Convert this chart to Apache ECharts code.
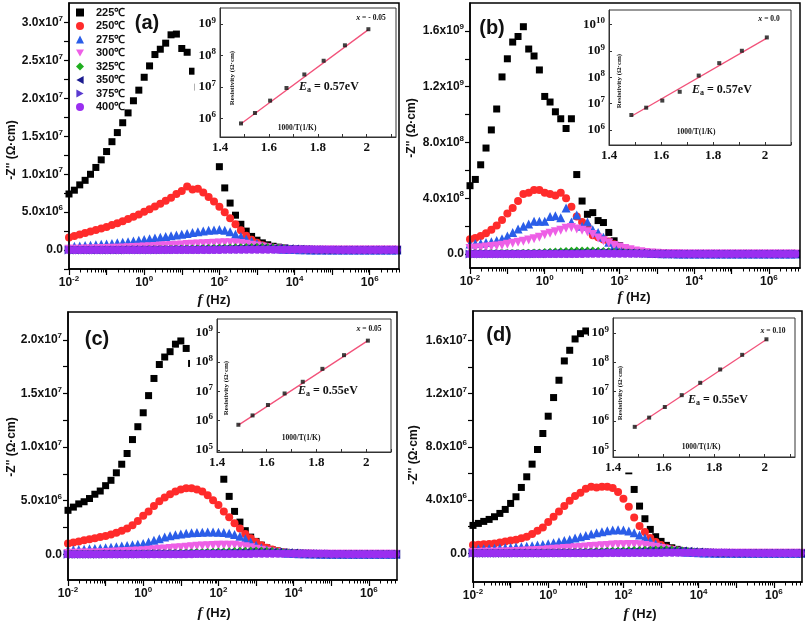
<!DOCTYPE html>
<html><head><meta charset="utf-8">
<script src="https://cdn.jsdelivr.net/npm/echarts@6/dist/echarts.min.js"></script>
<style>html,body{margin:0;padding:0;background:#fff}#c{width:805px;height:624px}</style>
</head><body><div id="c"></div>
<script>
const TEMPS = ['225℃','250℃','275℃','300℃','325℃','350℃','375℃','400℃'];
const FREQ = [0.01,0.01389,0.01931,0.02683,0.03728,0.05179,0.07197,
 0.1,0.1389,0.1931,0.2683,0.3728,0.5179,0.7197,
 1,1.389,1.931,2.683,3.728,5.179,7.197,
 10,13.89,19.31,26.83,37.28,51.79,71.97,
 100,138.9,193.1,268.3,372.8,517.9,719.7,
 1000,1389,1931,2683,3728,5179,7197,
 1e4,13890,19310,26830,37280,51790,71970,
 1e5,138900,193100,268300,372800,517900,719700,
 1e6,1389000,1931000,2683000,3728000,5179000];

// panel (a): -Z'' in units of 1e6 ohm.cm
const UNIT_A = 1e6;
const A225 = [7.4,7.9,8.6,9.2,10.0,10.9,11.9,13.0,14.3,15.5, 16.8,18.1,19.7,21.1,22.8,24.3,25.8,26.5,27.3,28.4, 28.5,26.6,26.1,23.6,21.5,19.0,16.5,13.8,11.0,8.2, 6.2,4.6,3.4,2.5,1.8,1.3,0.95,0.7,0.5,0.38, 0.28,0.2,0.15,0.11,0.08,0.06,0.05,0.04,0.03,0.03, 0.02,0.02,0.02,0.01,0.01,0.01,0.01,0.01,0.01,0.01, 0.01,0.01];
const A250 = [1.65,1.85,2.05,2.25,2.45,2.65,2.85,3.05,3.3,3.55, 3.8,4.1,4.4,4.7,5.05,5.4,5.75,6.1,6.5,6.9, 7.4,7.8,8.4,8.0,8.1,7.6,7.0,6.4,5.7,5.0, 4.2,3.4,2.6,1.9,1.35,0.95,0.65,0.45,0.3,0.2, 0.14,0.1,0.07,0.05,0.04,0.03,0.02,0.02,0.01,0.01, 0.01,0.01,0.01,0.01,0.01,0.01,0.01,0.01,0.01,0.01, 0.01,0.01];
const A275 = [0.45,0.5,0.55,0.6,0.65,0.7,0.75,0.8,0.87,0.95, 1.03,1.1,1.2,1.3,1.4,1.5,1.6,1.7,1.8,1.9, 2.0,2.1,2.2,2.3,2.4,2.5,2.6,2.65,2.7,2.6, 2.4,2.1,1.8,1.45,1.15,0.85,0.58,0.4,0.27,0.18, 0.12,0.08,0.06,0.04,0.03,0.02,0.02,0.01,0.01,0.01, 0.01,0.01,0.01,0.01,0.01,0.01,0.01,0.01,0.01,0.01, 0.01,0.01];
const A300 = [0.1,0.11,0.12,0.13,0.15,0.17,0.19,0.21,0.23,0.25, 0.27,0.3,0.33,0.36,0.4,0.44,0.48,0.52,0.56,0.6, 0.64,0.68,0.72,0.76,0.8,0.84,0.88,0.91,0.94,0.96, 0.96,0.94,0.88,0.78,0.65,0.52,0.4,0.3,0.22,0.15, 0.1,0.07,0.05,0.03,0.02,0.02,0.01,0.01,0.01,0.01, 0.01,0.01,0.01,0.01,0.01,0.01,0.01,0.01,0.01,0.01, 0,0];
const A325 = [0.03,0.03,0.03,0.03,0.04,0.04,0.04,0.05,0.05,0.05, 0.06,0.06,0.07,0.07,0.08,0.09,0.1,0.11,0.12,0.13, 0.15,0.16,0.18,0.2,0.22,0.24,0.26,0.28,0.3,0.32, 0.34,0.36,0.38,0.4,0.41,0.42,0.42,0.4,0.36,0.3, 0.23,0.17,0.12,0.08,0.05,0.03,0.02,0.01,0.01,0.01, 0.01,0.01,0.01,0,0,0,0,0,0,0, 0,0];
const A350 = [0.01,0.01,0.01,0.01,0.01,0.02,0.02,0.02,0.02,0.02, 0.03,0.03,0.03,0.03,0.04,0.04,0.04,0.05,0.05,0.06, 0.06,0.07,0.07,0.08,0.09,0.1,0.11,0.12,0.13,0.14, 0.15,0.16,0.17,0.18,0.19,0.2,0.21,0.22,0.22,0.22, 0.2,0.17,0.13,0.09,0.06,0.04,0.03,0.02,0.01,0.01, 0.01,0.01,0,0,0,0,0,0,0,0, 0,0];
const A375 = [0,0,0,0,0,0,0.01,0.01,0.01,0.01, 0.01,0.01,0.01,0.02,0.02,0.02,0.02,0.02,0.03,0.03, 0.03,0.03,0.04,0.04,0.04,0.05,0.05,0.05,0.06,0.06, 0.07,0.07,0.08,0.08,0.09,0.09,0.1,0.1,0.11,0.11, 0.12,0.12,0.12,0.11,0.1,0.08,0.06,0.04,0.03,0.02, 0.01,0.01,0.01,0.01,0.01,0,0,0,0,0, 0,0];
const A400 = [0,0,0,0,0,0,0,0,0,0, 0,0,0,0,0,0.01,0.01,0.01,0.01,0.01, 0.01,0.01,0.01,0.02,0.02,0.02,0.02,0.02,0.02,0.03, 0.03,0.03,0.03,0.03,0.04,0.04,0.04,0.04,0.05,0.05, 0.05,0.05,0.06,0.06,0.06,0.06,0.05,0.05,0.04,0.03, 0.02,0.02,0.01,0.01,0.01,0,0,0,0,0, 0,0];

// panel (b): -Z'' in units of 1e8 ohm.cm
const UNIT_B = 1e8;
const B225 = [4.9,5.35,6.4,7.6,8.9,10.4,12.7,14.0,15.2,15.6, 16.3,14.7,14.2,13.2,11.3,10.9,10.2,9.7,9.0,9.7, 5.7,3.8,2.85,2.97,2.4,2.26,1.55,0.95,0.6,0.42, 0.3,0.2,0.14,0.1,0.07,0.05,0.04,0.03,0.02,0.02, 0.01,0.01,0.01,0.01,0.01,0.01,0.01,0.01,0.01,0.01, 0.01,0.01,0.01,0.01,0.01,0,0,0,0,0, 0,0];
const B250 = [1.07,1.15,1.3,1.5,1.75,2.05,2.45,2.9,3.3,3.8, 4.3,4.4,4.6,4.6,4.4,4.3,4.2,4.4,4.0,3.4, 2.7,2.3,2.0,1.35,1.2,1.05,0.9,0.7,0.5,0.35, 0.25,0.17,0.12,0.08,0.06,0.04,0.03,0.02,0.02,0.01, 0.01,0.01,0.01,0.01,0.01,0.01,0.01,0.01,0.01,0.01, 0.01,0.01,0.01,0.01,0.01,0,0,0,0,0, 0,0];
const B275 = [0.72,0.75,0.78,0.82,0.88,0.97,1.1,1.3,1.55,1.8, 2.0,2.15,2.35,2.35,2.35,2.7,2.75,2.6,3.3,2.3, 2.8,2.0,2.3,1.75,1.55,1.2,0.85,0.6,0.45,0.33, 0.25,0.18,0.13,0.09,0.06,0.04,0.03,0.02,0.02,0.01, 0.01,0.01,0.01,0.01,0.01,0.01,0.01,0.01,0.01,0.01, 0.01,0.01,0.01,0.01,0.01,0,0,0,0,0, 0,0];
const B300 = [0.4,0.43,0.46,0.5,0.54,0.58,0.63,0.7,0.78,0.85, 0.92,1.0,1.1,1.2,1.38,1.5,1.6,1.7,1.85,1.9, 1.8,1.7,1.6,1.4,1.15,0.95,0.8,0.62,0.5,0.4, 0.3,0.22,0.16,0.12,0.08,0.06,0.04,0.03,0.02,0.02, 0.01,0.01,0.01,0.01,0.01,0.01,0.01,0.01,0.01,0.01, 0.01,0.01,0.01,0.01,0.01,0,0,0,0,0, 0,0];
const B325 = [0.05,0.05,0.05,0.06,0.06,0.06,0.07,0.07,0.08,0.08, 0.09,0.1,0.11,0.12,0.14,0.16,0.18,0.2,0.22,0.24, 0.25,0.26,0.26,0.25,0.24,0.22,0.2,0.17,0.14,0.11, 0.09,0.07,0.05,0.04,0.03,0.02,0.02,0.01,0.01,0.01, 0.01,0.01,0.01,0.01,0.01,0.01,0.01,0.01,0.01,0.01, 0,0,0,0,0,0,0,0,0,0, 0,0];
const B350 = [0.02,0.02,0.02,0.02,0.02,0.02,0.02,0.02,0.02,0.02, 0.02,0.03,0.03,0.03,0.04,0.04,0.05,0.05,0.06,0.06, 0.07,0.08,0.08,0.09,0.1,0.1,0.1,0.1,0.09,0.08, 0.07,0.06,0.05,0.04,0.03,0.02,0.02,0.01,0.01,0.01, 0.01,0.01,0.01,0.01,0.01,0.01,0.01,0.01,0.01,0.01, 0,0,0,0,0,0,0,0,0,0, 0,0];
const B375 = [0.01,0.01,0.01,0.01,0.01,0.01,0.01,0.01,0.01,0.01, 0.01,0.01,0.01,0.02,0.02,0.02,0.02,0.03,0.03,0.03, 0.03,0.04,0.04,0.04,0.05,0.05,0.05,0.05,0.05,0.05, 0.05,0.04,0.04,0.03,0.03,0.02,0.02,0.01,0.01,0.01, 0.01,0.01,0.01,0.01,0.01,0.01,0.01,0.01,0.01,0.01, 0,0,0,0,0,0,0,0,0,0, 0,0];
const B400 = [0,0,0,0,0,0,0,0,0,0, 0,0,0,0.01,0.01,0.01,0.01,0.01,0.01,0.01, 0.01,0.01,0.02,0.02,0.02,0.02,0.02,0.02,0.02,0.02, 0.02,0.02,0.02,0.02,0.01,0.01,0.01,0.01,0.01,0.01, 0.01,0.01,0.01,0.01,0.01,0,0,0,0,0, 0,0,0,0,0,0,0,0,0,0, 0,0];

// panel (c): -Z'' in units of 1e6 ohm.cm
const UNIT_C = 1e6;
const C225 = [4.1,4.4,4.7,4.9,5.2,5.6,5.9,6.4,6.9,7.6, 8.4,9.4,10.7,11.9,13.2,14.8,16.4,17.7,18.4,18.9, 19.6,19.9,19.2,17.8,16.0,14.2,12.4,10.6,8.8,7.0, 5.4,4.0,3.0,2.2,1.6,1.2,0.85,0.6,0.42,0.3, 0.2,0.14,0.1,0.07,0.05,0.04,0.03,0.02,0.02,0.01, 0.01,0.01,0.01,0.01,0.01,0.01,0.01,0.01,0.01,0.01, 0.01,0.01];
const C250 = [1.0,1.1,1.2,1.3,1.4,1.5,1.6,1.7,1.85,2.0, 2.2,2.4,2.7,3.1,3.6,4.0,4.5,4.95,5.3,5.6, 5.85,6.05,6.15,6.15,6.05,5.85,5.5,5.05,4.6,4.0, 3.45,2.9,2.4,1.9,1.5,1.15,0.85,0.62,0.44,0.3, 0.2,0.14,0.1,0.07,0.05,0.04,0.03,0.02,0.01,0.01, 0.01,0.01,0.01,0.01,0.01,0.01,0.01,0.01,0.01,0.01, 0.01,0.01];
const C275 = [0.4,0.42,0.45,0.48,0.51,0.54,0.57,0.6,0.65,0.7, 0.76,0.82,0.88,0.94,1.0,1.15,1.3,1.45,1.6,1.72, 1.82,1.9,1.95,2.0,2.03,2.05,2.07,2.08,2.06,2.02, 1.95,1.85,1.68,1.45,1.15,0.85,0.6,0.42,0.3,0.2, 0.14,0.1,0.07,0.05,0.04,0.03,0.02,0.01,0.01,0.01, 0.01,0.01,0.01,0.01,0.01,0.01,0.01,0.01,0.01,0.01, 0.01,0.01];
const C300 = [0.08,0.09,0.1,0.11,0.12,0.13,0.15,0.17,0.19,0.21, 0.23,0.25,0.28,0.31,0.34,0.38,0.42,0.46,0.5,0.54, 0.58,0.62,0.66,0.7,0.74,0.77,0.8,0.82,0.84,0.85, 0.85,0.83,0.78,0.7,0.6,0.48,0.37,0.28,0.2,0.14, 0.1,0.07,0.05,0.03,0.02,0.02,0.01,0.01,0.01,0.01, 0.01,0.01,0.01,0.01,0.01,0,0,0,0,0, 0,0];
const C325 = [0.03,0.03,0.03,0.03,0.03,0.04,0.04,0.04,0.04,0.05, 0.05,0.05,0.06,0.06,0.07,0.08,0.09,0.1,0.1,0.11, 0.13,0.14,0.15,0.17,0.19,0.2,0.22,0.24,0.26,0.27, 0.29,0.31,0.32,0.34,0.35,0.36,0.36,0.34,0.31,0.26, 0.2,0.15,0.1,0.07,0.04,0.03,0.02,0.01,0.01,0.01, 0.01,0.01,0,0,0,0,0,0,0,0, 0,0];
const C350 = [0.01,0.01,0.01,0.01,0.01,0.01,0.02,0.02,0.02,0.02, 0.02,0.03,0.03,0.03,0.03,0.04,0.04,0.04,0.05,0.05, 0.06,0.06,0.07,0.07,0.08,0.09,0.1,0.11,0.12,0.13, 0.14,0.15,0.16,0.17,0.18,0.19,0.2,0.2,0.2,0.19, 0.17,0.14,0.11,0.08,0.05,0.04,0.03,0.02,0.01,0.01, 0.01,0.01,0,0,0,0,0,0,0,0, 0,0];
const C375 = [0,0,0,0,0,0,0,0.01,0.01,0.01, 0.01,0.01,0.01,0.01,0.02,0.02,0.02,0.02,0.02,0.03, 0.03,0.03,0.03,0.04,0.04,0.04,0.05,0.05,0.05,0.06, 0.06,0.07,0.07,0.08,0.08,0.09,0.09,0.1,0.1,0.1, 0.11,0.11,0.11,0.1,0.09,0.07,0.05,0.04,0.03,0.02, 0.01,0.01,0.01,0.01,0,0,0,0,0,0, 0,0];
const C400 = [0,0,0,0,0,0,0,0,0,0, 0,0,0,0,0,0,0.01,0.01,0.01,0.01, 0.01,0.01,0.01,0.01,0.02,0.02,0.02,0.02,0.02,0.02, 0.03,0.03,0.03,0.03,0.03,0.04,0.04,0.04,0.04,0.05, 0.05,0.05,0.05,0.05,0.05,0.05,0.05,0.04,0.04,0.03, 0.02,0.02,0.01,0.01,0.01,0,0,0,0,0, 0,0];

// panel (d): -Z'' in units of 1e6 ohm.cm
const UNIT_D = 1e6;
const D225 = [2.1,2.25,2.4,2.55,2.75,3.0,3.3,3.75,4.25,4.95, 5.75,6.7,7.8,9.0,10.3,11.7,13.0,14.45,15.25,16.1, 16.5,16.7,16.6,16.0,15.0,13.5,11.5,9.5,7.8,6.2, 4.8,3.55,2.6,1.8,1.25,0.9,0.6,0.42,0.3,0.2, 0.14,0.1,0.07,0.05,0.04,0.03,0.02,0.02,0.01,0.01, 0.01,0.01,0.01,0.01,0.01,0.01,0.01,0.01,0.01,0.01, 0.01,0.01];
const D250 = [0.63,0.65,0.68,0.71,0.75,0.82,0.89,0.96,1.03,1.13, 1.25,1.45,1.7,1.95,2.35,2.75,3.15,3.55,3.95,4.3, 4.55,4.85,5.0,4.95,5.0,5.0,4.9,4.6,4.1,3.5, 2.7,2.05,1.6,1.15,0.85,0.62,0.42,0.3,0.2,0.14, 0.1,0.07,0.05,0.04,0.03,0.02,0.02,0.01,0.01,0.01, 0.01,0.01,0.01,0.01,0.01,0.01,0.01,0.01,0.01,0.01, 0.01,0.01];
const D275 = [0.33,0.34,0.35,0.36,0.38,0.4,0.42,0.44,0.47,0.5, 0.54,0.58,0.62,0.67,0.73,0.8,0.88,0.96,1.05,1.15, 1.25,1.35,1.45,1.55,1.62,1.7,1.75,1.78,1.75,1.68, 1.55,1.38,1.15,0.92,0.7,0.5,0.36,0.26,0.18,0.12, 0.08,0.06,0.04,0.03,0.02,0.01,0.01,0.01,0.01,0.01, 0.01,0.01,0.01,0.01,0.01,0.01,0.01,0.01,0.01,0.01, 0.01,0.01];
const D300 = [0.06,0.07,0.08,0.08,0.09,0.1,0.11,0.13,0.14,0.16, 0.18,0.2,0.22,0.24,0.27,0.3,0.33,0.36,0.39,0.42, 0.45,0.48,0.51,0.54,0.57,0.6,0.62,0.64,0.65,0.66, 0.66,0.64,0.6,0.54,0.46,0.37,0.29,0.22,0.16,0.11, 0.08,0.05,0.04,0.03,0.02,0.01,0.01,0.01,0.01,0.01, 0.01,0.01,0.01,0.01,0.01,0,0,0,0,0, 0,0];
const D325 = [0.02,0.02,0.02,0.03,0.03,0.03,0.03,0.03,0.04,0.04, 0.04,0.05,0.05,0.06,0.06,0.07,0.08,0.08,0.09,0.1, 0.11,0.12,0.13,0.15,0.16,0.17,0.19,0.2,0.22,0.23, 0.25,0.26,0.27,0.28,0.29,0.3,0.3,0.29,0.26,0.22, 0.17,0.12,0.09,0.06,0.04,0.02,0.01,0.01,0.01,0.01, 0.01,0,0,0,0,0,0,0,0,0, 0,0];
const D350 = [0.01,0.01,0.01,0.01,0.01,0.01,0.01,0.02,0.02,0.02, 0.02,0.02,0.03,0.03,0.03,0.03,0.04,0.04,0.04,0.05, 0.05,0.06,0.06,0.07,0.08,0.08,0.09,0.1,0.11,0.12, 0.13,0.14,0.15,0.16,0.16,0.17,0.18,0.18,0.18,0.17, 0.15,0.13,0.1,0.07,0.05,0.03,0.02,0.02,0.01,0.01, 0.01,0,0,0,0,0,0,0,0,0, 0,0];
const D375 = [0,0,0,0,0,0,0,0,0.01,0.01, 0.01,0.01,0.01,0.01,0.01,0.02,0.02,0.02,0.02,0.02, 0.02,0.03,0.03,0.03,0.03,0.04,0.04,0.04,0.05,0.05, 0.05,0.06,0.06,0.07,0.07,0.08,0.08,0.09,0.09,0.09, 0.1,0.1,0.1,0.09,0.08,0.06,0.05,0.04,0.03,0.02, 0.01,0.01,0.01,0,0,0,0,0,0,0, 0,0];
const D400 = [0,0,0,0,0,0,0,0,0,0, 0,0,0,0,0,0,0,0.01,0.01,0.01, 0.01,0.01,0.01,0.01,0.01,0.02,0.02,0.02,0.02,0.02, 0.02,0.03,0.03,0.03,0.03,0.03,0.04,0.04,0.04,0.04, 0.04,0.05,0.05,0.05,0.05,0.05,0.04,0.04,0.03,0.03, 0.02,0.02,0.01,0.01,0.01,0,0,0,0,0, 0,0];

// insets: resistivity vs 1000/T (400℃ ... 225℃)
const INV_T = [1.486,1.543,1.605,1.672,1.745,1.824,1.911,2.007];
const RHO_A = [7.0e5,1.5e6,3.7e6,9.3e6,2.5e7,6.8e7,2.1e8,6.8e8];
const RHO_B = [3.7e6,7.0e6,1.3e7,2.8e7,1.15e8,3.4e8,1.0e9,3.2e9];
const RHO_C = [7.2e5,1.5e6,3.4e6,8.4e6,2.1e7,5.8e7,1.7e8,5.3e8];
const RHO_D = [6.3e5,1.3e6,3.0e6,7.6e6,2.0e7,5.7e7,1.8e8,6.1e8];
const FIT_A = [6.8e5,6.6e8];
const FIT_B = [3.3e6,3.0e9];
const FIT_C = [7.0e5,5.3e8];
const FIT_D = [6.2e5,6.0e8];
const EA_TEXT = ['0.57eV','0.57eV','0.55eV','0.55eV'];
const X_TEXT = [' = - 0.05',' = 0.0',' = 0.05',' = 0.10'];
const LETTERS = ['(a)','(b)','(c)','(d)'];

// tick values
const X_DECADES = [0.01,0.1,1,10,100,1e3,1e4,1e5,1e6];
const X_LABELS = [0.01,1,100,1e4,1e6];
const Y_TICKS_A = [-2.5e6,0,2.5e6,5e6,7.5e6,1e7,1.25e7,1.5e7,1.75e7,2e7,2.25e7,2.5e7,2.75e7,3e7];
const Y_LABELS_A = [0,5e6,1e7,1.5e7,2e7,2.5e7,3e7];
const Y_TICKS_B = [0,2e8,4e8,6e8,8e8,1e9,1.2e9,1.4e9,1.6e9];
const Y_LABELS_B = [0,4e8,8e8,1.2e9,1.6e9];
const Y_TICKS_C = [0,2.5e6,5e6,7.5e6,1e7,1.25e7,1.5e7,1.75e7,2e7];
const Y_LABELS_C = [0,5e6,1e7,1.5e7,2e7];
const Y_TICKS_D = [0,2e6,4e6,6e6,8e6,1e7,1.2e7,1.4e7,1.6e7];
const Y_LABELS_D = [0,4e6,8e6,1.2e7,1.6e7];
const INSET_X_TICKS = [1.4,1.5,1.6,1.7,1.8,1.9,2.0,2.1];
const INSET_X_LABELS = [1.4,1.6,1.8,2.0];

const SANS = '"Liberation Sans", Arial, sans-serif';
const SERIF = '"Liberation Serif", "Times New Roman", serif';

const SYMS = [
  {symbol:'rect', size:7, color:'#000000'},
  {symbol:'circle', size:8, color:'#ff2b2b'},
  {symbol:'triangle', size:9, color:'#2a5de8'},
  {symbol:'path://M0,0L10,0L5,9Z', size:9, color:'#ee5fe6'},
  {symbol:'diamond', size:8, color:'#1fae1f'},
  {symbol:'path://M9,0L9,10L0,5Z', size:9, color:'#1b1b8f'},
  {symbol:'path://M0,0L0,10L9,5Z', size:9, color:'#5a3bd0'},
  {symbol:'circle', size:8, color:'#9a2ff0'}
];

const PANELS = [
  {data:[A225,A250,A275,A300,A325,A350,A375,A400], unit:UNIT_A, xMax:6e6, yMin:-2.5e6, yMax:3.26e7, yTicks:Y_TICKS_A, yLabels:Y_LABELS_A,
   main:{left:69,top:3,width:330,height:266}, inset:{left:220,top:8,width:176,height:129}, insetX:[1.4,2.12], insetY:[2.6e5,3.2e9], insetYLabels:[1e6,1e7,1e8,1e9],
   rho:RHO_A, fit:FIT_A, cover:{x:194.5,y:4,width:203.5,height:153},
   letter:[147,23], yName:[12,150], xName:[214,300], ea:[299,87], xt:[371,18], res:[232,78], inv:[297,128]},
  {data:[B225,B250,B275,B300,B325,B350,B375,B400], unit:UNIT_B, xMax:6.8e6, yMin:-1e8, yMax:1.8e9, yTicks:Y_TICKS_B, yLabels:Y_LABELS_B,
   main:{left:470,top:3,width:330,height:265}, inset:{left:609,top:10,width:182,height:135}, insetX:[1.4,2.1], insetY:[2.7e5,3.5e10], insetYLabels:[1e6,1e7,1e8,1e9,1e10],
   rho:RHO_B, fit:FIT_B, cover:{x:582,y:4,width:217,height:159},
   letter:[492,28], yName:[412,128], xName:[634,297], ea:[692,90], xt:[769,19], res:[619,81], inv:[696,132]},
  {data:[C225,C250,C275,C300,C325,C350,C375,C400], unit:UNIT_C, xMax:5.6e6, yMin:-2.4e6, yMax:2.26e7, yTicks:Y_TICKS_C, yLabels:Y_LABELS_C,
   main:{left:68,top:312,width:329,height:268}, inset:{left:217,top:319,width:174,height:133}, insetX:[1.4,2.1], insetY:[8.5e4,2.9e9], insetYLabels:[1e5,1e6,1e7,1e8,1e9],
   rho:RHO_C, fit:FIT_C, cover:{x:190,y:313,width:206,height:155},
   letter:[97,339], yName:[12,447], xName:[214,613], ea:[298,391], xt:[369,329], res:[226,388], inv:[301,438]},
  {data:[D225,D250,D275,D300,D325,D350,D375,D400], unit:UNIT_D, xMax:5.6e6, yMin:-2.15e6, yMax:1.82e7, yTicks:Y_TICKS_D, yLabels:Y_LABELS_D,
   main:{left:473,top:311,width:329,height:271}, inset:{left:613,top:318,width:182,height:139}, insetX:[1.4,2.12], insetY:[5.9e4,3.25e9], insetYLabels:[1e5,1e6,1e7,1e8,1e9],
   rho:RHO_D, fit:FIT_D, cover:{x:589,y:312,width:212,height:160.5},
   letter:[499,335], yName:[414,455], xName:[640,614], ea:[688,400], xt:[773,331], res:[620,393], inv:[701,447]}
];

function sciLabel(v) {
  if (Math.abs(v) < 1e-9) return '{b|0.0}';
  const e = Math.floor(Math.log10(Math.abs(v)) + 1e-9);
  const m = v / Math.pow(10, e);
  return '{b|' + m.toFixed(1) + 'x10}{s|' + e + '}';
}
function powLabel(v) { return '{b|10}{s|' + Math.round(Math.log10(v)) + '}'; }
function minorTicks(max) {
  const out = [];
  for (let d = -2; d <= 6; d++) for (let m = 2; m <= 9; m++) { const v = m * Math.pow(10, d); if (v <= max) out.push(v); }
  return out;
}
const RICH_MAIN = {
  b:{fontFamily:SANS,fontWeight:'bold',fontSize:12,color:'#111',lineHeight:16},
  s:{fontFamily:SANS,fontWeight:'bold',fontSize:8,color:'#111',lineHeight:10,verticalAlign:'top'}
};
const RICH_INSET = {
  b:{fontFamily:SERIF,fontWeight:'bold',fontSize:13,color:'#111',lineHeight:16},
  s:{fontFamily:SERIF,fontWeight:'bold',fontSize:9,color:'#111',lineHeight:9,verticalAlign:'top'}
};

const grid = [], xAxis = [], yAxis = [], series = [], graphic = [];
PANELS.forEach((P, p) => {
  const gMain = grid.length;
  grid.push(Object.assign({show:true,borderColor:'#000',borderWidth:1.5,backgroundColor:'transparent',z:6,containLabel:false,outerBoundsMode:'none'}, P.main));
  const gIn = grid.length;
  grid.push(Object.assign({show:true,borderColor:'#333',borderWidth:1,backgroundColor:'transparent',z:6,containLabel:false,outerBoundsMode:'none'}, P.inset));

  const xMain = xAxis.length;
  xAxis.push({type:'log',logBase:10,gridIndex:gMain,min:0.01,max:P.xMax,position:'bottom',
    axisLine:{show:true,onZero:false,lineStyle:{color:'#000',width:1.5}},
    axisTick:{show:true,length:6,customValues:X_DECADES.filter(v=>v<=P.xMax),lineStyle:{color:'#000',width:1.2}},
    axisLabel:{show:true,customValues:X_LABELS,formatter:powLabel,rich:RICH_MAIN,margin:6},
    splitLine:{show:false},minorTick:{show:false},minorSplitLine:{show:false}});
  xAxis.push({type:'log',logBase:10,gridIndex:gMain,min:0.01,max:P.xMax,position:'bottom',
    axisLine:{show:false,onZero:false},
    axisTick:{show:true,length:3.5,customValues:minorTicks(P.xMax),lineStyle:{color:'#000',width:1}},
    axisLabel:{show:false},splitLine:{show:false}});
  const xIn = xAxis.length;
  xAxis.push({type:'value',gridIndex:gIn,min:P.insetX[0],max:P.insetX[1],position:'bottom',z:6,
    axisLine:{show:true,onZero:false,lineStyle:{color:'#333',width:1}},
    axisTick:{show:true,inside:true,length:3,customValues:INSET_X_TICKS,lineStyle:{color:'#333'}},
    axisLabel:{customValues:INSET_X_LABELS,formatter:v=>(Math.abs(v-2)<1e-9?'2':v.toFixed(1)),
      fontFamily:SERIF,fontWeight:'bold',fontSize:13,color:'#111',margin:4},
    splitLine:{show:false}});

  const yMain = yAxis.length;
  yAxis.push({type:'value',gridIndex:gMain,min:P.yMin,max:P.yMax,position:'left',
    axisLine:{show:true,onZero:false,lineStyle:{color:'#000',width:1.5}},
    axisTick:{show:true,length:5,customValues:P.yTicks,lineStyle:{color:'#000',width:1.2}},
    axisLabel:{customValues:P.yLabels,formatter:sciLabel,rich:RICH_MAIN,margin:6},
    splitLine:{show:false}});
  const yIn = yAxis.length;
  yAxis.push({type:'log',logBase:10,gridIndex:gIn,min:P.insetY[0],max:P.insetY[1],position:'left',z:6,
    axisLine:{show:true,onZero:false,lineStyle:{color:'#333',width:1}},
    axisTick:{show:true,inside:true,length:3,customValues:P.insetYLabels,lineStyle:{color:'#333'}},
    axisLabel:{customValues:P.insetYLabels,formatter:powLabel,rich:RICH_INSET,margin:4},
    splitLine:{show:false},minorTick:{show:false}});

  TEMPS.forEach((name, i) => {
    const vals = P.data[i];
    series.push({type:'scatter',name,xAxisIndex:xMain,yAxisIndex:yMain,
      symbol:SYMS[i].symbol,symbolSize:SYMS[i].size,
      itemStyle:{color:SYMS[i].color,opacity:1},z:2,silent:true,
      data:FREQ.map((f, j) => [f, vals[j] * P.unit])});
  });
  series.push({type:'line',name:'fit '+p,xAxisIndex:xIn,yAxisIndex:yIn,showSymbol:false,symbol:'none',silent:true,
    lineStyle:{color:'#f2527a',width:1.3},z:7,
    data:[[INV_T[0],P.fit[0]],[INV_T[INV_T.length-1],P.fit[1]]]});
  series.push({type:'scatter',name:'rho '+p,xAxisIndex:xIn,yAxisIndex:yIn,symbol:'rect',symbolSize:4,silent:true,
    itemStyle:{color:'#111'},z:8,data:INV_T.map((x, j) => [x, P.rho[j]])});

  graphic.push({type:'rect',shape:P.cover,style:{fill:'#ffffff'},z:5,silent:true});
  graphic.push({type:'text',x:P.letter[0],y:P.letter[1],z:10,silent:true,
    style:{text:LETTERS[p],fontFamily:SANS,fontWeight:'bold',fontSize:20,fill:'#111',align:'center',verticalAlign:'middle'}});
  graphic.push({type:'text',x:P.yName[0],y:P.yName[1],rotation:Math.PI/2,z:10,silent:true,
    style:{text:"-Z'' (Ω·cm)",fontFamily:SANS,fontWeight:'bold',fontSize:12,fill:'#111',align:'center',verticalAlign:'middle'}});
  graphic.push({type:'text',x:P.xName[0],y:P.xName[1],z:10,silent:true,
    style:{text:'{i|f}{n| (Hz)}',fill:'#111',align:'center',verticalAlign:'middle',
      rich:{i:{fontFamily:SERIF,fontStyle:'italic',fontWeight:'bold',fontSize:15},n:{fontFamily:SANS,fontWeight:'bold',fontSize:13}}}});
  graphic.push({type:'text',x:P.ea[0],y:P.ea[1],z:10,silent:true,
    style:{text:'{e|E}{a|a}{t| = '+EA_TEXT[p]+'}',fill:'#111',align:'left',verticalAlign:'middle',
      rich:{e:{fontFamily:SERIF,fontStyle:'italic',fontWeight:'bold',fontSize:12,lineHeight:14},
            a:{fontFamily:SERIF,fontWeight:'bold',fontSize:8,lineHeight:9,verticalAlign:'bottom'},
            t:{fontFamily:SERIF,fontWeight:'bold',fontSize:12,lineHeight:14}}}});
  graphic.push({type:'text',x:P.xt[0],y:P.xt[1],z:10,silent:true,
    style:{text:'{i|x}{t|'+X_TEXT[p]+'}',fill:'#111',align:'center',verticalAlign:'middle',
      rich:{i:{fontFamily:SERIF,fontStyle:'italic',fontWeight:'bold',fontSize:8},t:{fontFamily:SERIF,fontWeight:'bold',fontSize:7.5}}}});
  graphic.push({type:'text',x:P.res[0],y:P.res[1],rotation:Math.PI/2,z:10,silent:true,
    style:{text:'Resistivity (Ω·cm)',fontFamily:SERIF,fontWeight:'bold',fontSize:7,fill:'#111',align:'center',verticalAlign:'middle'}});
  graphic.push({type:'text',x:P.inv[0],y:P.inv[1],z:10,silent:true,
    style:{text:'1000/T(1/K)',fontFamily:SERIF,fontWeight:'bold',fontSize:7.5,fill:'#111',align:'center',verticalAlign:'middle'}});
});

const chart = echarts.init(document.getElementById('c'), null, {renderer:'canvas'});
chart.setOption({
  animation:false,
  backgroundColor:'#ffffff',
  legend:{data:TEMPS,orient:'vertical',left:76,top:7,padding:0,itemWidth:8,itemHeight:8,itemGap:2.5,selectedMode:false,
    textStyle:{fontFamily:SANS,fontWeight:'bold',fontSize:11,lineHeight:11,color:'#111',padding:[0,0,0,7]},z:8},
  grid, xAxis, yAxis, series, graphic
});
</script></body></html>
